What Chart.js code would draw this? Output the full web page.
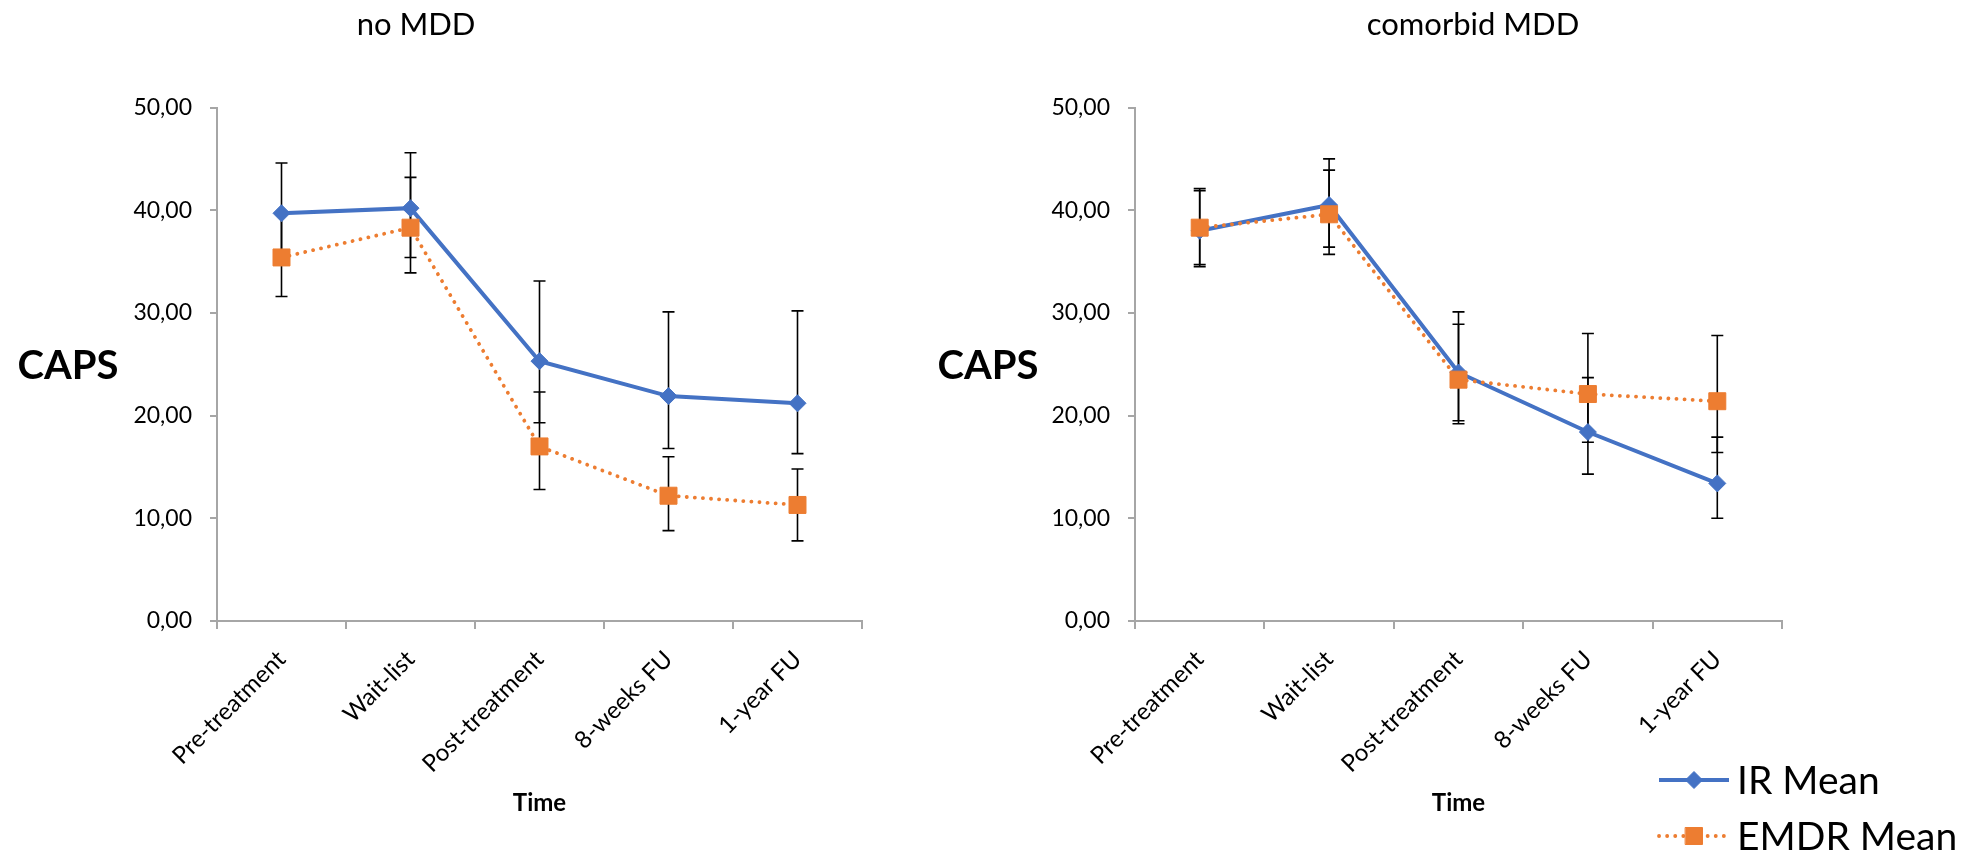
<!DOCTYPE html>
<html>
<head>
<meta charset="utf-8">
<title>CAPS by time point</title>
<script src="https://cdn.jsdelivr.net/npm/chart.js@4.4.1/dist/chart.umd.min.js"></script>
<style>
    html, body { margin: 0; padding: 0; background: #ffffff; }
    .wrap { position: relative; width: 1965px; height: 852px; overflow: hidden; }
    #noMddChart { position: absolute; left: 0; top: 0; }
    #mddChart { position: absolute; left: 900px; top: 0; }
</style>
</head>
<body>
<div class="wrap">
    <canvas id="noMddChart" width="900" height="852"></canvas>
    <canvas id="mddChart" width="1065" height="852"></canvas>
</div>
<script>
const timePoints = ['Pre-treatment', 'Wait-list', 'Post-treatment', '8-weeks FU', '1-year FU'];
const seriesNames = ['IR Mean', 'EMDR Mean'];

// no MDD
const noMddIR = [39.7, 40.2, 25.3, 21.9, 21.2];
const noMddIRHigh = [44.6, 45.6, 33.1, 30.1, 30.2];
const noMddIRLow = [34.8, 35.4, 19.3, 16.8, 16.3];
const noMddEMDR = [35.4, 38.3, 17.0, 12.2, 11.3];
const noMddEMDRHigh = [39.6, 43.2, 22.3, 16.0, 14.8];
const noMddEMDRLow = [31.6, 33.9, 12.8, 8.8, 7.8];

// comorbid MDD
const mddIR = [38.0, 40.5, 24.2, 18.4, 13.4];
const mddIRHigh = [41.9, 45.0, 30.1, 23.7, 17.9];
const mddIRLow = [34.5, 35.7, 19.2, 14.3, 10.0];
const mddEMDR = [38.3, 39.6, 23.5, 22.1, 21.4];
const mddEMDRHigh = [42.1, 43.9, 28.9, 28.0, 27.8];
const mddEMDRLow = [34.7, 36.4, 19.5, 17.4, 16.4];

const FONT = 'Lato, "Open Sans", sans-serif';
const AXIS_GREY = '#a6a6a6';

const errorBarPlugin = {
    id: 'errorBars',
    beforeDatasetsDraw(chart) {
        const ctx = chart.ctx;
        const yScale = chart.scales.y;
        ctx.save();
        ctx.strokeStyle = '#000000';
        ctx.lineWidth = 1.6;
        chart.data.datasets.forEach((ds, i) => {
            const meta = chart.getDatasetMeta(i);
            meta.data.forEach((pt, j) => {
                const top = yScale.getPixelForValue(ds.errHigh[j]);
                const bottom = yScale.getPixelForValue(ds.errLow[j]);
                ctx.beginPath();
                ctx.moveTo(pt.x, top);
                ctx.lineTo(pt.x, bottom);
                ctx.moveTo(pt.x - 6, top);
                ctx.lineTo(pt.x + 6, top);
                ctx.moveTo(pt.x - 6, bottom);
                ctx.lineTo(pt.x + 6, bottom);
                ctx.stroke();
            });
        });
        ctx.restore();
    }
};

const panelTextPlugin = {
    id: 'panelText',
    afterDraw(chart, args, opts) {
        const ctx = chart.ctx;
        const area = chart.chartArea;
        ctx.save();
        ctx.fillStyle = '#000000';
        ctx.textAlign = 'center';
        ctx.textBaseline = 'middle';
        ctx.font = `31px ${FONT}`;
        ctx.fillText(opts.title, opts.titleX, opts.titleY);
        ctx.font = `bold 40px ${FONT}`;
        ctx.fillText('CAPS', opts.capsX, (area.top + area.bottom) / 2 + 2);
        ctx.restore();
    }
};

const lineLegendPlugin = {
    id: 'lineLegend',
    afterDraw(chart, args, opts) {
        if (!opts.show) {
            return;
        }
        const ctx = chart.ctx;
        ctx.save();
        chart.data.datasets.forEach((ds, i) => {
            const y = opts.y + i * opts.rowGap;
            const x0 = opts.x;
            const x1 = opts.x + opts.lineLength;
            ctx.strokeStyle = ds.borderColor;
            ctx.lineWidth = ds.borderWidth;
            ctx.lineCap = ds.borderCapStyle || 'butt';
            ctx.setLineDash(ds.borderDash || []);
            ctx.beginPath();
            ctx.moveTo(x0, y);
            ctx.lineTo(x1, y);
            ctx.stroke();
            ctx.setLineDash([]);
            ctx.fillStyle = ds.pointBackgroundColor;
            ctx.strokeStyle = ds.pointBorderColor;
            ctx.lineWidth = 1;
            Chart.helpers.drawPoint(ctx, {
                pointStyle: ds.pointStyle,
                rotation: 0,
                radius: ds.pointRadius,
                borderWidth: 1
            }, (x0 + x1) / 2, y);
            ctx.fillStyle = '#000000';
            ctx.font = `39px ${FONT}`;
            ctx.textAlign = 'left';
            ctx.textBaseline = 'middle';
            ctx.fillText(ds.label, x1 + 8, y + 1);
        });
        ctx.restore();
    }
};

function formatTick(value) {
    return Number(value).toFixed(2).replace('.', ',');
}

function renderPanel(canvasId, cfg) {
    const canvas = document.getElementById(canvasId);
    if (!canvas) {
        return;
    }

    new Chart(canvas, {
        type: 'line',
        data: {
            labels: timePoints,
            datasets: [
                {
                    label: seriesNames[0],
                    data: cfg.ir,
                    errHigh: cfg.irHigh,
                    errLow: cfg.irLow,
                    borderColor: '#4472c4',
                    borderWidth: 4,
                    pointStyle: 'rectRot',
                    pointRadius: 8.5,
                    pointBackgroundColor: '#4472c4',
                    pointBorderColor: '#4472c4',
                    pointBorderWidth: 1,
                    tension: 0,
                    order: 1
                },
                {
                    label: seriesNames[1],
                    data: cfg.emdr,
                    errHigh: cfg.emdrHigh,
                    errLow: cfg.emdrLow,
                    borderColor: '#ed7d31',
                    borderWidth: 3.8,
                    borderDash: [0.1, 8],
                    borderCapStyle: 'round',
                    pointStyle: 'rect',
                    pointRadius: 12,
                    pointBackgroundColor: '#ed7d31',
                    pointBorderColor: '#ed7d31',
                    pointBorderWidth: 1,
                    tension: 0,
                    order: 0
                }
            ]
        },
        options: {
            responsive: false,
            animation: false,
            layout: {
                padding: { left: 0, right: cfg.padRight, top: 107.5, bottom: 0 }
            },
            plugins: {
                legend: { display: false },
                tooltip: { enabled: false },
                panelText: { title: cfg.title, titleX: cfg.titleX, titleY: 25, capsX: cfg.capsX },
                lineLegend: { show: cfg.legend, x: 759, y: 780, rowGap: 56, lineLength: 70 }
            },
            scales: {
                x: {
                    offset: true,
                    grid: { offset: true, drawOnChartArea: false, tickLength: 8, color: AXIS_GREY, lineWidth: 2 },
                    border: { color: AXIS_GREY, width: 2 },
                    ticks: {
                        autoSkip: false,
                        minRotation: 45,
                        maxRotation: 45,
                        padding: 16,
                        color: '#000000',
                        font: { family: FONT, size: 24 }
                    },
                    title: {
                        display: true,
                        text: 'Time',
                        color: '#000000',
                        font: { family: FONT, size: 24, weight: 'bold' },
                        padding: { top: 0, bottom: 34 }
                    },
                    afterFit: scale => { scale.height = 231; }
                },
                y: {
                    min: 0,
                    max: 50,
                    grid: { drawOnChartArea: false, tickLength: 7, color: AXIS_GREY, lineWidth: 2 },
                    border: { color: AXIS_GREY, width: 2 },
                    ticks: {
                        stepSize: 10,
                        padding: 18,
                        color: '#000000',
                        font: { family: FONT, size: 23 },
                        callback: value => formatTick(value)
                    },
                    afterFit: scale => { scale.width = cfg.axisWidth; }
                }
            }
        },
        plugins: [errorBarPlugin, panelTextPlugin, lineLegendPlugin]
    });
}

document.addEventListener('DOMContentLoaded', () => {
    renderPanel('noMddChart', {
        title: 'no MDD', titleX: 416, capsX: 68,
        axisWidth: 217, padRight: 38, legend: false,
        ir: noMddIR, irHigh: noMddIRHigh, irLow: noMddIRLow,
        emdr: noMddEMDR, emdrHigh: noMddEMDRHigh, emdrLow: noMddEMDRLow
    });
    renderPanel('mddChart', {
        title: 'comorbid MDD', titleX: 573, capsX: 88,
        axisWidth: 235, padRight: 183, legend: true,
        ir: mddIR, irHigh: mddIRHigh, irLow: mddIRLow,
        emdr: mddEMDR, emdrHigh: mddEMDRHigh, emdrLow: mddEMDRLow
    });
});
</script>
</body>
</html>
